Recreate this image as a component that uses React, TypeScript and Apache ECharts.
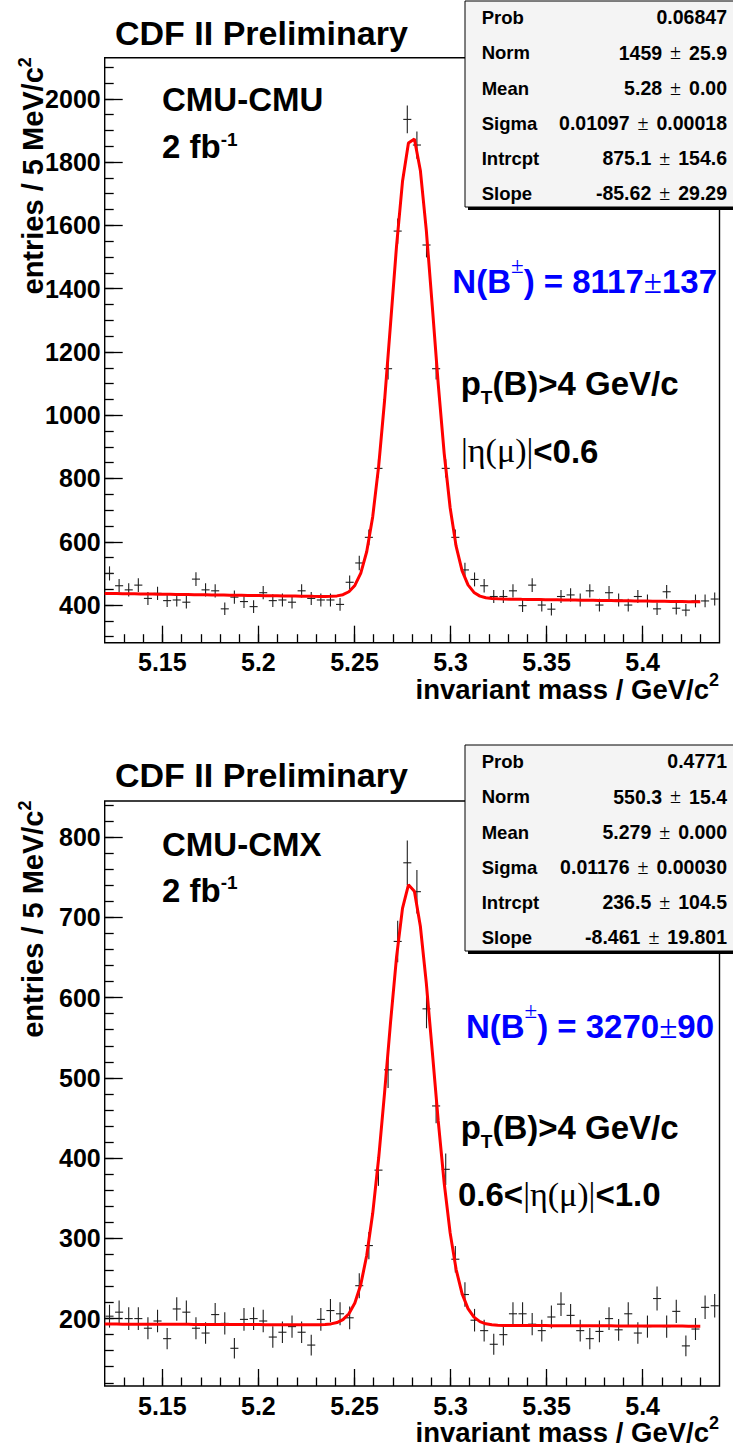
import React, { useEffect, useRef } from "react";
import * as echarts from "echarts";

const SANS = "'Liberation Sans', Arial, Helvetica, sans-serif";
const SERIF = "'Liberation Serif', 'Times New Roman', serif";

// ---- data ----
const massBins = [
  5.1225, 5.1275, 5.1325, 5.1375, 5.1425, 5.1475, 5.1525, 5.1575, 5.1625, 5.1675,
  5.1725, 5.1775, 5.1825, 5.1875, 5.1925, 5.1975, 5.2025, 5.2075, 5.2125, 5.2175,
  5.2225, 5.2275, 5.2325, 5.2375, 5.2425, 5.2475, 5.2525, 5.2575, 5.2625, 5.2675,
  5.2725, 5.2775, 5.2825, 5.2875, 5.2925, 5.2975, 5.3025, 5.3075, 5.3125, 5.3175,
  5.3225, 5.3275, 5.3325, 5.3375, 5.3425, 5.3475, 5.3525, 5.3575, 5.3625, 5.3675,
  5.3725, 5.3775, 5.3825, 5.3875, 5.3925, 5.3975, 5.4025, 5.4075, 5.4125, 5.4175,
  5.4225, 5.4275, 5.4325, 5.4375,
];

const cmuCounts = [
  500, 461, 448, 463, 421, 437, 414, 416, 409, 482,
  448, 445, 388, 425, 411, 395, 439, 414, 416, 409,
  445, 421, 416, 416, 402, 472, 533, 614, 832, 1147,
  1582, 1935, 1854, 1538, 1147, 832, 614, 511, 481, 461,
  427, 427, 445, 398, 463, 400, 387, 427, 432, 416,
  445, 400, 439, 416, 400, 427, 413, 388, 442, 390,
  384, 413, 413, 419,
];

const cmxCounts = [
  203, 208, 200, 200, 188, 197, 175, 212, 208, 188,
  182, 205, 194, 163, 199, 200, 197, 177, 183, 190,
  183, 167, 199, 210, 206, 201, 241, 291, 385, 510,
  670, 768, 732, 586, 465, 386, 274, 230, 198, 185,
  168, 180, 206, 206, 193, 185, 202, 218, 204, 185,
  175, 184, 200, 186, 206, 182, 190, 225, 190, 209,
  166, 187, 214, 216,
];

// fit parameters: [Norm, Mean, Sigma, Intrcpt, Slope]
const cmuFitParams = [1459, 5.28, 0.01097, 875.1, -85.62];
const cmxFitParams = [550.3, 5.279, 0.01176, 236.5, -8.461];
const fitRange = [5.12, 5.43];

const statNames = ["Prob", "Norm", "Mean", "Sigma", "Intrcpt", "Slope"];
const cmuStatValues = [["0.06847"], ["1459", "25.9"], ["5.28", "0.00"], ["0.01097", "0.00018"], ["875.1", "154.6"], ["-85.62", "29.29"]];
const cmxStatValues = [["0.4771"], ["550.3", "15.4"], ["5.279", "0.000"], ["0.01176", "0.00030"], ["236.5", "104.5"], ["-8.461", "19.801"]];

const xRange = [5.12, 5.44];
const xMajorTicks = [5.15, 5.2, 5.25, 5.3, 5.35, 5.4];
const xTickLabels = ["5.15", "5.2", "5.25", "5.3", "5.35", "5.4"];
const cmuYRange = [281, 2130];
const cmuYMajor = [400, 600, 800, 1000, 1200, 1400, 1600, 1800, 2000];
const cmxYRange = [116, 845];
const cmxYMajor = [200, 300, 400, 500, 600, 700, 800];

function steps(from: number, to: number, step: number, scale: number) {
  const out: number[] = [];
  for (let v = from; v <= to; v += step) out.push(v / scale);
  return out;
}
const xMinorTicks = steps(513, 543, 1, 100);
const cmuYMinor = steps(300, 2100, 50, 1);
const cmxYMinor = steps(120, 840, 20, 1);

// ---- helpers ----
let mctx: CanvasRenderingContext2D | null = null;
function measure(t: string, size: number, weight: string, fam: string) {
  if (!mctx) mctx = document.createElement("canvas").getContext("2d");
  mctx!.font = `${weight} ${size}px ${fam}`;
  return mctx!.measureText(t).width;
}
type Piece = { t: string; size: number; w?: string; f?: string; dy?: number; c?: string; gap?: number };
const CENTRAL = 0.3465;
function run(pieces: Piece[], x0: number, base: number, opt: { align?: string; color?: string; z?: number } = {}) {
  const widths = pieces.map((p) => measure(p.t, p.size, p.w || "bold", p.f || SANS) + (p.gap || 0) * 2);
  const total = widths.reduce((a, b) => a + b, 0);
  let x = opt.align === "right" ? x0 - total : x0;
  const els: any[] = [];
  pieces.forEach((p, i) => {
    els.push({
      type: "text",
      x: x + (p.gap || 0),
      y: base + (p.dy || 0) - CENTRAL * p.size,
      z: opt.z ?? 120,
      silent: true,
      style: {
        text: p.t,
        fontSize: p.size,
        fontWeight: p.w || "bold",
        fontFamily: p.f || SANS,
        fill: p.c || opt.color || "#000",
        align: "left",
        verticalAlign: "middle",
        textVerticalAlign: "middle",
      },
    });
    x += widths[i];
  });
  return { els, total };
}

function fitCurve(params: number[]) {
  const [norm, mean, sigma, a, b] = params;
  const n = 100;
  const pts: number[][] = [];
  for (let i = 0; i <= n; i++) {
    const x = fitRange[0] + ((fitRange[1] - fitRange[0]) * i) / n;
    pts.push([x, norm * Math.exp(-0.5 * ((x - mean) / sigma) ** 2) + a + b * x]);
  }
  return pts;
}

function buildOption() {
  const gridLeft = 104.7;
  const gridW = 614.8;
  const gridH = 585;
  const tops = [57.7, 801];
  const panels = [
    { counts: cmuCounts, fit: cmuFitParams, yr: cmuYRange, ymaj: cmuYMajor, ymin: cmuYMinor },
    { counts: cmxCounts, fit: cmxFitParams, yr: cmxYRange, ymaj: cmxYMajor, ymin: cmxYMinor },
  ];
  const grid: any[] = [];
  const xAxis: any[] = [];
  const yAxis: any[] = [];
  const series: any[] = [];
  const tickStyle = { color: "#000", width: 1.3 };
  panels.forEach((p, gi) => {
    grid.push({
      left: gridLeft, top: tops[gi], width: gridW, height: gridH,
      show: true, borderColor: "#000", borderWidth: 1.4, backgroundColor: "transparent",
      containLabel: false, outerBoundsMode: "none",
    });
    xAxis.push({
      type: "value", gridIndex: gi, position: "bottom", min: xRange[0], max: xRange[1],
      axisLine: { show: false }, splitLine: { show: false },
      axisTick: { show: true, inside: true, length: 17, customValues: xMajorTicks, lineStyle: tickStyle },
      axisLabel: {
        show: true, customValues: xMajorTicks, margin: 7,
        formatter: (v: number) => { const i = xMajorTicks.findIndex((t) => Math.abs(t - v) < 1e-6); return i >= 0 ? xTickLabels[i] : ""; },
        fontFamily: SANS, fontWeight: "bold", fontSize: 25, color: "#000",
      },
    });
    xAxis.push({
      type: "value", gridIndex: gi, position: "bottom", min: xRange[0], max: xRange[1],
      axisLine: { show: false }, splitLine: { show: false },
      axisTick: { show: true, inside: true, length: 8.5, customValues: xMinorTicks, lineStyle: tickStyle },
      axisLabel: { show: false },
    });
    yAxis.push({
      type: "value", gridIndex: gi, position: "left", min: p.yr[0], max: p.yr[1],
      axisLine: { show: false }, splitLine: { show: false },
      axisTick: { show: true, inside: true, length: 18, customValues: p.ymaj, lineStyle: tickStyle },
      axisLabel: {
        show: true, customValues: p.ymaj, margin: 4,
        formatter: (v: number) => String(Math.round(v)),
        fontFamily: SANS, fontWeight: "bold", fontSize: 25, color: "#000",
      },
    });
    yAxis.push({
      type: "value", gridIndex: gi, position: "left", min: p.yr[0], max: p.yr[1],
      axisLine: { show: false }, splitLine: { show: false },
      axisTick: { show: true, inside: true, length: 9, customValues: p.ymin, lineStyle: tickStyle },
      axisLabel: { show: false },
    });
    series.push({
      type: "custom", coordinateSystem: "cartesian2d", xAxisIndex: gi * 2, yAxisIndex: gi * 2, z: 3,
      data: p.counts.map((c, i) => [massBins[i], c, Math.sqrt(c)]),
      encode: { x: 0, y: 1 },
      renderItem: (params: any, api: any) => {
        const x = api.value(0), y = api.value(1), e = api.value(2);
        const c = api.coord([x, y]);
        const t = api.coord([x, y + e]);
        const b = api.coord([x, y - e]);
        const l = api.coord([x - 0.0021, y]);
        const r = api.coord([x + 0.0021, y]);
        const st = { stroke: "#1e1e1e", lineWidth: 1.1 };
        return {
          type: "group",
          children: [
            { type: "line", shape: { x1: c[0], y1: t[1], x2: c[0], y2: b[1] }, style: st },
            { type: "line", shape: { x1: l[0], y1: c[1], x2: r[0], y2: c[1] }, style: st },
          ],
        };
      },
    });
    series.push({
      type: "line", xAxisIndex: gi * 2, yAxisIndex: gi * 2, z: 5,
      data: fitCurve(p.fit), showSymbol: false, symbol: "none", smooth: false,
      lineStyle: { color: "#ff0000", width: 3 }, silent: true,
    });
  });

  // ---- annotations ----
  const g: any[] = [];
  const push = (r: { els: any[] }) => g.push(...r.els);
  const BLUE = "#0000ff";
  const oy = 743.3;

  // titles
  push(run([{ t: "CDF II Preliminary", size: 34 }], 115, 44.3));
  push(run([{ t: "CDF II Preliminary", size: 34 }], 115, 786.5));
  // channel labels
  push(run([{ t: "CMU-CMU", size: 33 }], 162, 111));
  push(run([{ t: "CMU-CMX", size: 33 }], 162, 855.5));
  push(run([{ t: "2 fb", size: 33 }, { t: "-1", size: 19, dy: -12.5 }], 162, 158.3));
  push(run([{ t: "2 fb", size: 33 }, { t: "-1", size: 19, dy: -12.5 }], 162, 901.7));
  // yields
  push(run([
    { t: "N(B", size: 33 }, { t: "±", size: 23, w: "normal", f: SERIF, dy: -20 },
    { t: ") = 8117", size: 33 }, { t: "±", size: 33, w: "normal", f: SERIF }, { t: "137", size: 33 },
  ], 717, 293, { align: "right", color: BLUE }));
  push(run([
    { t: "N(B", size: 33 }, { t: "±", size: 23, w: "normal", f: SERIF, dy: -20 },
    { t: ") = 3270", size: 33 }, { t: "±", size: 33, w: "normal", f: SERIF }, { t: "90", size: 33 },
  ], 714, 1038, { align: "right", color: BLUE }));
  // cuts
  push(run([{ t: "p", size: 33 }, { t: "T", size: 19, dy: 9.5 }, { t: "(B)>4 GeV/c", size: 33 }], 460.7, 395));
  push(run([{ t: "p", size: 33 }, { t: "T", size: 19, dy: 9.5 }, { t: "(B)>4 GeV/c", size: 33 }], 460.7, 1138.5));
  push(run([{ t: "|η(μ)|", size: 34, w: "normal", f: SERIF }, { t: "<0.6", size: 33 }], 461, 462.5));
  push(run([{ t: "0.6<", size: 33 }, { t: "|η(μ)|", size: 34, w: "normal", f: SERIF }, { t: "<1.0", size: 33 }], 458, 1206));

  // axis titles
  [0, 1].forEach((k) => {
    push(run([{ t: "invariant mass / GeV/c", size: 27.5 }, { t: "2", size: 18, dy: -13 }], 719, 699 + k * oy, { align: "right" }));
    const yt = run([{ t: "entries / 5 MeV/c", size: 29 }, { t: "2", size: 18, dy: -12.5 }], 0, 0, { align: "right" });
    g.push({ type: "group", x: 43.3, y: tops[k] - 0.5, rotation: Math.PI / 2, z: 120, children: yt.els });
  });

  // stats boxes
  [
    { vals: cmuStatValues, y0: 0 },
    { vals: cmxStatValues, y0: 744 },
  ].forEach((box) => {
    g.push({ type: "rect", z: 100, silent: true, shape: { x: 468, y: 4 + box.y0, width: 300, height: 206 }, style: { fill: "#000" } });
    g.push({ type: "rect", z: 101, silent: true, shape: { x: 465, y: 1 + box.y0, width: 300, height: 206 }, style: { fill: "#f4f4f4", stroke: "#000", lineWidth: 1 } });
    statNames.forEach((name, i) => {
      const base = 17.5 + 35.2 * i + box.y0 + 0.358 * 18.5;
      push(run([{ t: name, size: 18.5 }], 481.7, base));
      const v = box.vals[i];
      if (v.length === 1) push(run([{ t: v[0], size: 19.5 }], 727, base, { align: "right" }));
      else push(run([{ t: v[0], size: 19.5 }, { t: "±", size: 20, w: "normal", f: SERIF, gap: 8 }, { t: v[1], size: 19.5 }], 727, base, { align: "right" }));
    });
  });

  return {
    animation: false,
    backgroundColor: "#ffffff",
    grid,
    xAxis,
    yAxis,
    series,
    graphic: { elements: g },
  };
}

export default function App() {
  const ref = useRef<HTMLDivElement>(null);
  useEffect(() => {
    document.body.style.margin = "0";
    const chart = echarts.init(ref.current!, null, { renderer: "svg" });
    chart.setOption(buildOption() as any);
    return () => chart.dispose();
  }, []);
  return <div ref={ref} style={{ position: "absolute", left: 0, top: 0, width: 733, height: 1449 }} />;
}
